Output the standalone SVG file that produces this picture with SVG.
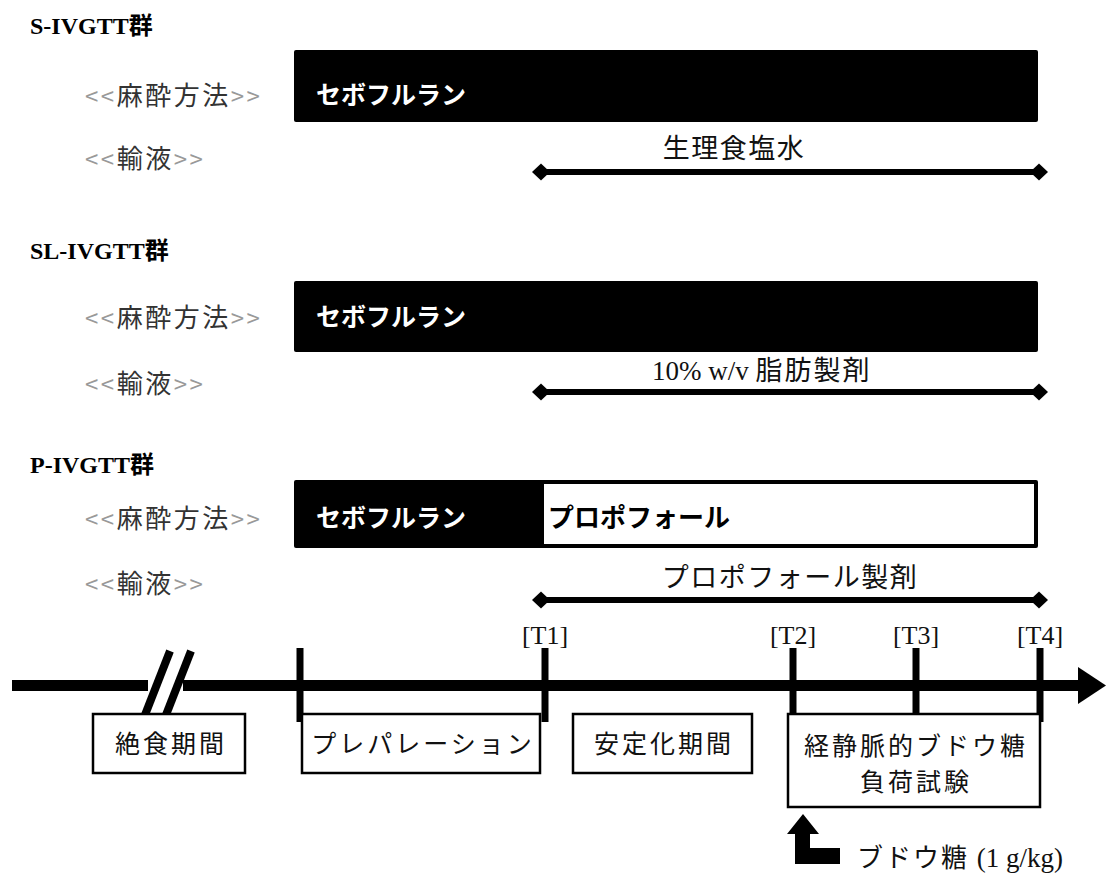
<svg xmlns="http://www.w3.org/2000/svg" width="1108" height="875" viewBox="0 0 1108 875">
<defs>
<style>
.title{font-family:"Liberation Serif","Noto Sans CJK JP",serif;font-weight:bold;font-size:24px;fill:#000}
.lab{font-family:"Noto Sans CJK JP",sans-serif;font-size:26px;letter-spacing:2.5px;fill:#333}
.ang{fill:#999;font-size:24px}
.wb{font-family:"Noto Sans CJK JP",sans-serif;font-weight:bold;font-size:25px;fill:#fff}
.bb{font-family:"Noto Sans CJK JP",sans-serif;font-weight:bold;font-size:26px;fill:#000}
.fl{font-family:"Noto Sans CJK JP",sans-serif;font-size:27px;letter-spacing:1.5px;fill:#111}
.ser{font-family:"Liberation Serif","Noto Sans CJK JP",serif;font-size:27px;letter-spacing:0;fill:#111}
.tl{font-family:"Liberation Serif",serif;font-size:26px;fill:#111}
.box{fill:#fff;stroke:#000;stroke-width:2.5}
.boxt{font-family:"Noto Sans CJK JP",sans-serif;font-size:25px;letter-spacing:3px;fill:#111}
.dl{stroke:#000;stroke-width:6;fill:none;marker-start:url(#dia);marker-end:url(#dia)}
.tick{stroke:#000;stroke-width:7}
</style>
<marker id="dia" viewBox="-10 -10 20 20" markerWidth="20" markerHeight="20" refX="0" refY="0" markerUnits="userSpaceOnUse" orient="auto">
<polygon points="-9,0 0,-8.5 9,0 0,8.5" fill="#000"/>
</marker>
</defs>

<g id="group-s">
<text class="title" x="30" y="34">S-IVGTT群</text>
<text class="lab" x="85" y="105"><tspan class="ang">&lt;&lt;</tspan>麻酔方法<tspan class="ang">&gt;&gt;</tspan></text>
<rect x="294" y="50" width="744" height="72" rx="2" fill="#000"/>
<text class="wb" x="316" y="104">セボフルラン</text>
<text class="lab" x="85" y="168"><tspan class="ang">&lt;&lt;</tspan>輸液<tspan class="ang">&gt;&gt;</tspan></text>
<text class="fl" x="734" y="158" text-anchor="middle">生理食塩水</text>
</g>

<g id="group-sl">
<text class="title" x="30" y="259">SL-IVGTT群</text>
<text class="lab" x="85" y="327"><tspan class="ang">&lt;&lt;</tspan>麻酔方法<tspan class="ang">&gt;&gt;</tspan></text>
<rect x="294" y="281" width="744" height="71" rx="2" fill="#000"/>
<text class="wb" x="316" y="326">セボフルラン</text>
<text class="lab" x="85" y="393"><tspan class="ang">&lt;&lt;</tspan>輸液<tspan class="ang">&gt;&gt;</tspan></text>
<text class="ser" x="652" y="380">10% w/v <tspan class="fl" style="letter-spacing:2px">脂肪製剤</tspan></text>
</g>

<g id="group-p">
<text class="title" x="30" y="473">P-IVGTT群</text>
<text class="lab" x="85" y="528"><tspan class="ang">&lt;&lt;</tspan>麻酔方法<tspan class="ang">&gt;&gt;</tspan></text>
<rect x="294" y="480" width="744" height="68" rx="2" fill="#000"/>
<rect x="544" y="484" width="490" height="60" fill="#fff"/>
<text class="wb" x="316" y="527">セボフルラン</text>
<text class="bb" x="548" y="527">プロポフォール</text>
<text class="lab" x="85" y="593"><tspan class="ang">&lt;&lt;</tspan>輸液<tspan class="ang">&gt;&gt;</tspan></text>
<text class="fl" x="790" y="587" text-anchor="middle">プロポフォール製剤</text>
</g>

<g id="connectors">
<line class="dl" x1="541" y1="172" x2="1039" y2="172"/>
<line class="dl" x1="541" y1="392" x2="1039" y2="392"/>
<line class="dl" x1="541" y1="600" x2="1039" y2="600"/>
</g>

<g id="timeline">
<rect x="12" y="680" width="136" height="11" fill="#000"/>
<rect x="183" y="680" width="897" height="11" fill="#000"/>
<polygon points="1078,667 1106,685.5 1078,704" fill="#000"/>
<line x1="170" y1="651" x2="143" y2="720" stroke="#000" stroke-width="8"/>
<line x1="191" y1="651" x2="164" y2="720" stroke="#000" stroke-width="8"/>
<line class="tick" x1="300" y1="648" x2="300" y2="722"/>
<line class="tick" x1="545" y1="648" x2="545" y2="722"/>
<line class="tick" x1="793" y1="648" x2="793" y2="722"/>
<line class="tick" x1="916" y1="648" x2="916" y2="722"/>
<line class="tick" x1="1040" y1="648" x2="1040" y2="722"/>
<text class="tl" x="545" y="644" text-anchor="middle">[T1]</text>
<text class="tl" x="793" y="644" text-anchor="middle">[T2]</text>
<text class="tl" x="916" y="644" text-anchor="middle">[T3]</text>
<text class="tl" x="1040" y="644" text-anchor="middle">[T4]</text>
</g>

<g id="box-fast">
<rect class="box" x="93" y="714" width="152" height="59"/>
<text class="boxt" x="171" y="753" text-anchor="middle">絶食期間</text>
</g>
<g id="box-prep">
<rect class="box" x="302" y="714" width="238" height="59"/>
<text class="boxt" x="423" y="753" text-anchor="middle">プレパレーション</text>
</g>
<g id="box-stab">
<rect class="box" x="573" y="714" width="179" height="59"/>
<text class="boxt" x="664" y="753" text-anchor="middle">安定化期間</text>
</g>
<g id="box-ivgtt">
<rect class="box" x="788" y="714" width="252" height="93"/>
<text class="boxt" x="916" y="755" text-anchor="middle">経静脈的ブドウ糖</text>
<text class="boxt" x="916" y="791" text-anchor="middle">負荷試験</text>
</g>

<g id="glucose">
<polygon points="787,834 803,814 819,834 810,834 810,848 840,848 840,864 795,864 795,834" fill="#000"/>
<text class="fl" x="857" y="867" style="font-size:26px;letter-spacing:2px">ブドウ糖 <tspan class="ser" style="font-size:27px">(1 g/kg)</tspan></text>
</g>
</svg>
